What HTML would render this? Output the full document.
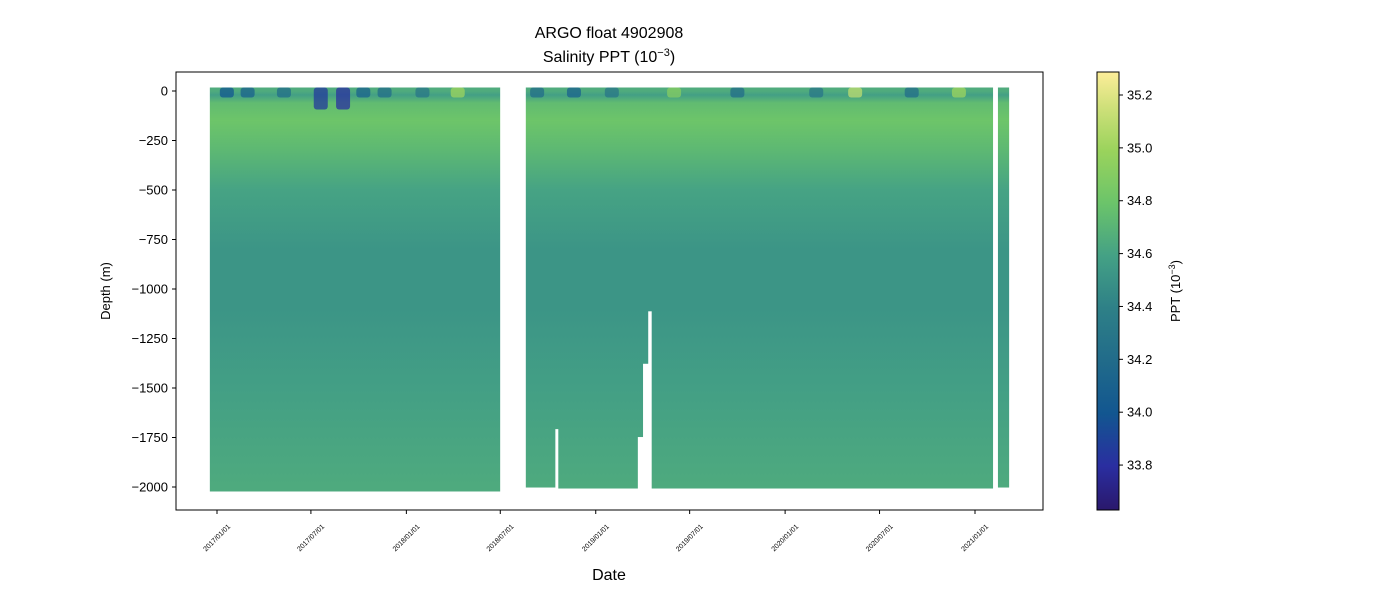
<!DOCTYPE html>
<html><head><meta charset="utf-8"><style>
body{margin:0;background:#fff}
svg text{font-family:"Liberation Sans","DejaVu Sans",sans-serif;fill:#000}
</style></head><body>
<svg id="chart" width="1400" height="600" viewBox="0 0 1400 600" xmlns="http://www.w3.org/2000/svg">
<defs>
<linearGradient id="cmap" x1="0" y1="1" x2="0" y2="0">
<stop offset="0" stop-color="#2a186c"/>
<stop offset="0.1" stop-color="#2a2ea0"/>
<stop offset="0.22" stop-color="#125690"/>
<stop offset="0.34" stop-color="#216b8a"/>
<stop offset="0.46" stop-color="#2e8087"/>
<stop offset="0.58" stop-color="#44a185"/>
<stop offset="0.7" stop-color="#6bc46a"/>
<stop offset="0.82" stop-color="#9ad35c"/>
<stop offset="0.92" stop-color="#cfe07a"/>
<stop offset="1" stop-color="#fdee99"/>
</linearGradient>
</defs>
<g id="plot"></g>
</svg>
<script>
const segStart=["2016-12-24","2018-08-25","2018-10-14","2018-10-22","2019-03-22","2019-04-01","2019-04-11","2019-04-20","2021-02-20"];
const segEnd=["2018-06-25","2018-10-14","2018-10-22","2019-03-22","2019-04-01","2019-04-11","2019-04-20","2021-01-30","2021-03-02"];
const segBottom=[-2005,-1985,-1690,-1990,-1730,-1360,-1095,-1990,-1985];
const profDepth=[0,20,60,150,300,500,800,1100,1500,2000];
const profSal=[34.65,34.58,34.74,34.8,34.72,34.6,34.52,34.52,34.58,34.64];
const surfDate=["2017-01-20","2017-03-01","2017-05-10","2017-07-20","2017-09-01","2017-10-10","2017-11-20","2018-02-01","2018-04-10","2018-09-10","2018-11-20","2019-02-01","2019-06-01","2019-10-01","2020-03-01","2020-05-15","2020-09-01","2020-12-01"];
const surfSal=[34.0,34.1,34.2,33.85,33.8,34.1,34.2,34.3,35.0,34.2,34.1,34.3,34.9,34.2,34.3,35.1,34.2,35.0];
const yTicks=[0,-250,-500,-750,-1000,-1250,-1500,-1750,-2000];
const xTicks=["2017/01/01","2017/07/01","2018/01/01","2018/07/01","2019/01/01","2019/07/01","2020/01/01","2020/07/01","2021/01/01"];
const cTicks=[33.8,34.0,34.2,34.4,34.6,34.8,35.0,35.2];
const cMin=33.63,cMax=35.287;

const NS="http://www.w3.org/2000/svg";
const svg=document.getElementById('chart');
const g=document.getElementById('plot');
function el(t,a,p){const e=document.createElementNS(NS,t);for(const k in a)e.setAttribute(k,a[k]);(p||g).appendChild(e);return e;}
const t0=Date.UTC(2017,0,1),t1=Date.UTC(2021,0,1);
function xs(d){const p=d.split(/[-\/]/).map(Number);const t=Date.UTC(p[0],p[1]-1,p[2]);return 217+(t-t0)/(t1-t0)*758;}
function ys(v){return 91+(v/-2000)*396;}
const stops=[[0,[42,24,108]],[0.1,[42,46,160]],[0.22,[18,86,144]],[0.34,[33,107,138]],[0.46,[46,128,135]],[0.58,[68,161,133]],[0.7,[107,196,106]],[0.82,[154,211,92]],[0.92,[207,224,122]],[1,[253,238,153]]];
function cmap(v){let f=(v-cMin)/(cMax-cMin);f=Math.max(0,Math.min(1,f));for(let i=1;i<stops.length;i++){if(f<=stops[i][0]){const a=stops[i-1],b=stops[i];const u=(f-a[0])/(b[0]-a[0]);const c=a[1].map((x,j)=>Math.round(x+(b[1][j]-x)*u));return `rgb(${c})`;}}return 'rgb(253,238,153)';}
function cy(v){return 510-(v-cMin)/(cMax-cMin)*438;}

const frame=el('rect',{x:176,y:72,width:867,height:438,fill:'none',stroke:'#000','stroke-width':1});



const defs=svg.querySelector('defs');
const pg=el('linearGradient',{id:'prof',gradientUnits:'userSpaceOnUse',x1:0,y1:ys(0),x2:0,y2:ys(-2000)},defs);
profDepth.forEach((d,i)=>{el('stop',{offset:d/2000,'stop-color':cmap(profSal[i])},pg);});

const data=el('g',{});


segStart.forEach((s,i)=>{
  const hasLeft=segEnd.includes(s), hasRight=segStart.includes(segEnd[i]);
  const x0=xs(s)-(hasLeft?0.6:3),x1=xs(segEnd[i])+(hasRight?0.6:3);
  const r=el('rect',{x:x0,y:ys(0)-3.5,width:x1-x0,height:ys(segBottom[i])-ys(0)+7,fill:'url(#prof)'},data);
  
  
});
surfDate.forEach((d,i)=>{
  const x=xs(d);
  const c=el('rect',{x:x-7,y:ys(0)-3.5,width:14,height:10+(surfSal[i]<34?12:0),fill:cmap(surfSal[i]),rx:3,opacity:0.75},data);
  
  
});
g.insertBefore(data,frame);

yTicks.forEach(v=>{
  const y=ys(v);
  const tk=el('line',{x1:172,x2:176,y1:y,y2:y,stroke:'#000'});
  
  
  const t=el('text',{x:168,y:y+4.5,'text-anchor':'end','font-size':13});
  t.textContent=(v<0?'\u2212'+(-v):v);
  
  
});
xTicks.forEach(d=>{
  const x=xs(d);
  const tk=el('line',{x1:x,x2:x,y1:510,y2:514,stroke:'#000'});
  
  
  const t=el('text',{x:x,y:540,'text-anchor':'middle','font-size':7,transform:`rotate(-45 ${x} 538)`});
  t.textContent=d;
  
  
});
const cb=el('rect',{x:1097,y:72,width:22,height:438,fill:'url(#cmap)',stroke:'#000'});


cTicks.forEach(v=>{
  const y=cy(v);
  const tk=el('line',{x1:1119,x2:1123,y1:y,y2:y,stroke:'#000'});
  
  
  const t=el('text',{x:1127,y:y+4.5,'font-size':13});
  t.textContent=v.toFixed(1);
  
  
});
</script>
<svg style="position:absolute;left:0;top:0" width="1400" height="600">
<text x="609" y="38" text-anchor="middle" font-size="16">ARGO float 4902908</text>
<text x="609" y="62" text-anchor="middle" font-size="16">Salinity PPT (10<tspan dy="-6" font-size="11">−3</tspan><tspan dy="6">)</tspan></text>
<text x="609" y="580" text-anchor="middle" font-size="16">Date</text>
<text x="110" y="291" text-anchor="middle" font-size="13" transform="rotate(-90 110 291)">Depth (m)</text>
<text x="1180" y="291" text-anchor="middle" font-size="13" transform="rotate(-90 1180 291)">PPT (10<tspan dy="-5" font-size="9">−3</tspan><tspan dy="5">)</tspan></text>
</svg>
</body></html>
